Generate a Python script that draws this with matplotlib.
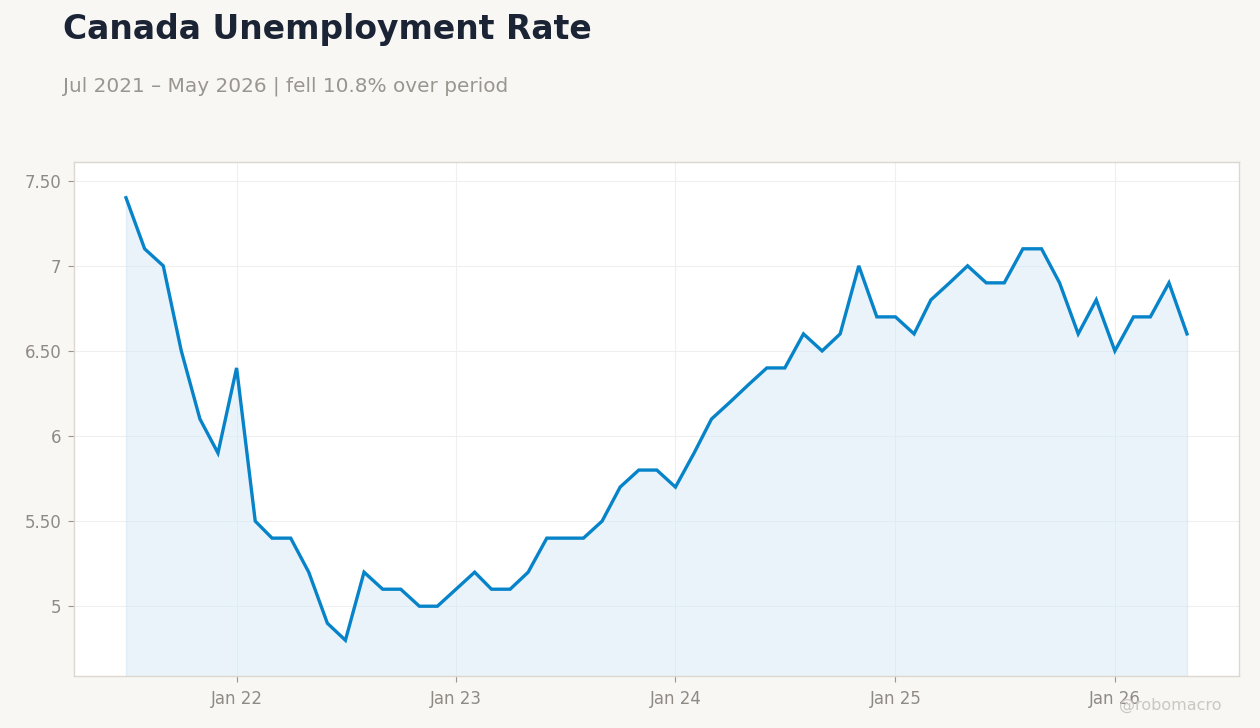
import matplotlib
matplotlib.use("Agg")
import matplotlib.pyplot as plt
import matplotlib.dates as mdates
import pandas as pd
import numpy as np

# ---- data ----
start_month = "2021-07-01"
rate = [7.4, 7.1, 7.0, 6.5, 6.1, 5.9,
        6.4, 5.5, 5.4, 5.4, 5.2, 4.9, 4.8, 5.2, 5.1, 5.1, 5.0, 5.0,
        5.1, 5.2, 5.1, 5.1, 5.2, 5.4, 5.4, 5.4, 5.5, 5.7, 5.8, 5.8,
        5.7, 5.9, 6.1, 6.2, 6.3, 6.4, 6.4, 6.6, 6.5, 6.6, 7.0, 6.7,
        6.7, 6.6, 6.8, 6.9, 7.0, 6.9, 6.9, 7.1, 7.1, 6.9, 6.6, 6.8,
        6.5, 6.7, 6.7, 6.9, 6.6]
dates = pd.date_range(start_month, periods=len(rate), freq="MS")
y_ticks = [5.0, 5.5, 6.0, 6.5, 7.0, 7.5]
y_tick_labels = ["5", "5.50", "6", "6.50", "7", "7.50"]
x_ticks = ["2022-01-01", "2023-01-01", "2024-01-01", "2025-01-01", "2026-01-01"]
x_tick_labels = ["Jan 22", "Jan 23", "Jan 24", "Jan 25", "Jan 26"]

title = "Canada Unemployment Rate"
subtitle = "Jul 2021 \u2013 May 2026 | fell 10.8% over period"
watermark = "@robomacro"

# ---- style ----
bg = "#f8f7f4"
line_c = "#0784c9"
fill_c = "#d6e9f7"
grid_c = "#efefef"
tick_c = "#8f8a84"
spine_c = "#ddd8cf"

fig = plt.figure(figsize=(12.6, 7.28), dpi=100, facecolor=bg)
ax = fig.add_axes([74/1260, 1 - 676/728, (1239-74)/1260, (676-162)/728])
ax.set_facecolor("white")

ymin, ymax = 4.59, 7.61
xd = mdates.date2num(dates)
ax.fill_between(dates, rate, ymin, color=fill_c, alpha=0.5, lw=1, edgecolor="#cfe3f2")
ax.plot(dates, rate, color=line_c, lw=2.4, solid_joinstyle="miter", zorder=3)

ax.set_ylim(ymin, ymax)
span = xd[-1] - xd[0]
ax.set_xlim(xd[0] - 0.049 * span, xd[-1] + 0.049 * span)

ax.set_yticks(y_ticks)
ax.set_yticklabels(y_tick_labels)
ax.set_xticks(mdates.date2num(pd.to_datetime(x_ticks)))
ax.set_xticklabels(x_tick_labels)

ax.grid(True, color=grid_c, lw=0.8)
ax.set_axisbelow(True)
ax.tick_params(axis="both", colors="#9a958f", labelcolor=tick_c, labelsize=12,
               length=4, width=0.8)
ax.tick_params(axis="x", pad=6)
ax.tick_params(axis="y", pad=5)
for s in ax.spines.values():
    s.set_color(spine_c)
    s.set_linewidth(1)

fig.text(63/1260, 1 - 30/728, title, fontsize=23.8, fontweight="bold",
         color="#1b2435", va="center", ha="left")
fig.text(63/1260, 1 - 86/728, subtitle, fontsize=14.4, color="#9a958f",
         va="center", ha="left")
fig.text(1222/1260, 1 - 705/728, watermark, fontsize=11.5, color="#cbc7c1",
         va="center", ha="right")

fig.savefig("out.png", dpi=100, facecolor=bg)
